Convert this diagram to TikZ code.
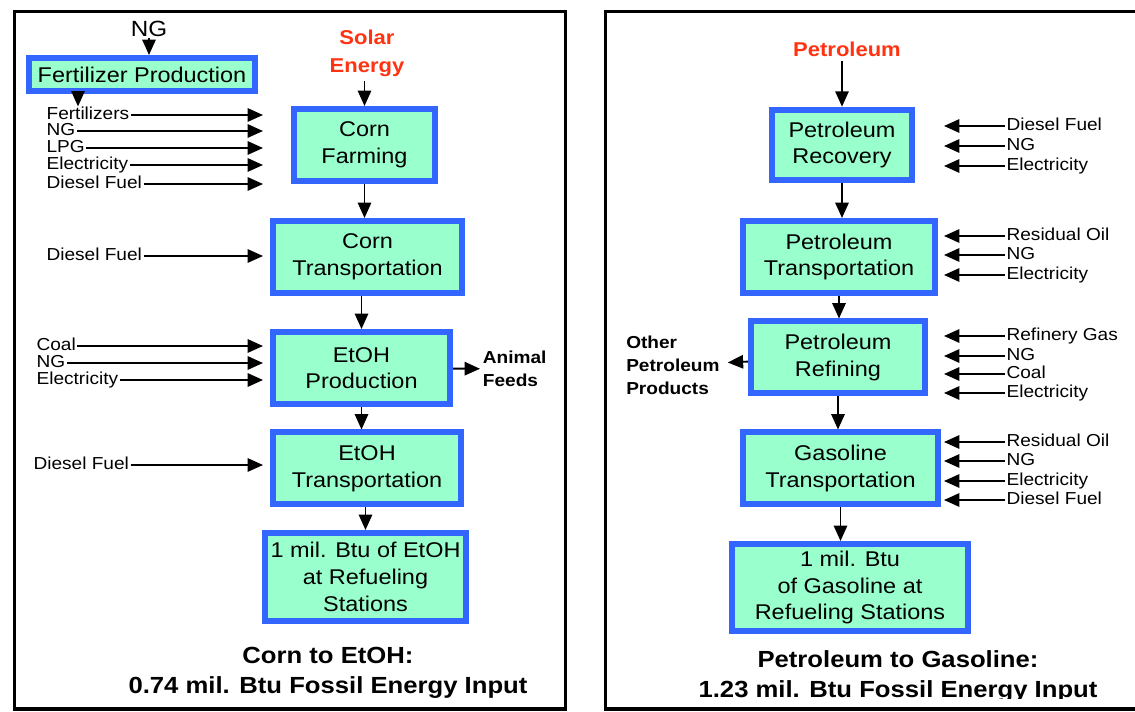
\documentclass[tikz,border=0pt]{standalone}
\usepackage{fontspec}
\setmainfont{Liberation Sans}[FakeStretch=1.1]
\usetikzlibrary{arrows.meta,calc}
\definecolor{boxblue}{RGB}{51,102,255}
\definecolor{boxfill}{RGB}{153,255,204}
\definecolor{srcred}{RGB}{255,51,17}

\begin{document}
\begin{tikzpicture}[x=0.75pt,y=-0.75pt,
                    main node/.style={draw=boxblue,fill=boxfill,line width=4.5pt,align=center,inner sep=0pt,font=\fontsize{16}{20}\selectfont},
                    side node/.style={inner sep=1pt,text height=9pt,text depth=1.5pt,font=\fontsize{13}{15}\selectfont},
                    out node/.style={inner sep=2pt,align=left,font=\bfseries\fontsize{13}{17.25}\selectfont},
                    src node/.style={text=srcred,align=center,font=\bfseries\fontsize{15}{21}\selectfont},
                    note node/.style={align=center,font=\bfseries\fontsize{17.5}{22.5}\selectfont},
                    flow/.style={-{Triangle[length=11.5pt,width=10pt]},line width=1.4pt},
                    frame/.style={line width=2.6pt}]

 \path[use as bounding box,clip] (0,0) rectangle (1135,712);
 \fill[white] (0,0) rectangle (1135,712);
 \draw[frame] (14.5,11.5) rectangle (565.5,709);
 \draw[frame] (605.5,11.5) rectangle (1150,709);

 \coordinate (lx) at (263,0);
 \coordinate (rx) at (944,0);

 \node[main node,minimum width=169.5pt,minimum height=24.75pt] (fp) at (142,74.5) {Fertilizer Production};
 \node[font=\fontsize{16.5}{18}\selectfont,inner sep=1pt] (ng) at (149,29) {NG};
 \node[src node] (se) at (367,53) {Solar\\Energy};
 \node[main node,minimum width=105.75pt,minimum height=54pt] (cf) at (364.5,145) {Corn\\Farming};
 \node[main node,minimum width=141.75pt,minimum height=54pt] (ct) at (367.5,257) {Corn\\Transportation};
 \node[main node,minimum width=132.75pt,minimum height=54pt] (ep) at (361.5,368) {EtOH\\Production};
 \node[main node,minimum width=141pt,minimum height=54pt] (et) at (367,468.5) {EtOH\\Transportation};
 \node[main node,minimum width=150.75pt,minimum height=66pt] (eb) at (365.5,577) {1 mil. Btu of EtOH\\at Refueling\\Stations};

 \node[side node,anchor=west] (fz) at (45,115) {Fertilizers};
 \node[side node,anchor=west] (ng1) at (45,131) {NG};
 \node[side node,anchor=west] (lpg) at (45,148) {LPG};
 \node[side node,anchor=west] (el1) at (45,165) {Electricity};
 \node[side node,anchor=west] (df1) at (45,184) {Diesel Fuel};
 \node[side node,anchor=west] (df2) at (45,256) {Diesel Fuel};
 \node[side node,anchor=west] (co1) at (35,346) {Coal};
 \node[side node,anchor=west] (ng2) at (35,363) {NG};
 \node[side node,anchor=west] (el2) at (35,380) {Electricity};
 \node[side node,anchor=west] (df3) at (32,465) {Diesel Fuel};
 \node[out node,anchor=west] (af) at (480,369) {Animal\\Feeds};

 \path[flow]
 (ng) edge (ng.south |- fp.north)
 ([xshift=39pt]fp.south west) edge ([xshift=39pt]fp.south west |- fz.north)
 (cf.north |- se.south) edge (cf.north)
 (cf.south) edge (cf.south |- ct.north)
 (ep.north |- ct.south) edge (ep.north)
 (ep.south) edge (ep.south |- et.north)
 (eb.north |- et.south) edge (eb.north)
 (ep) edge (af);

 \path[flow]
 (fz) edge (fz -| lx)
 (ng1) edge (ng1 -| lx)
 (lpg) edge (lpg -| lx)
 (el1) edge (el1 -| lx)
 (df1) edge (df1 -| lx)
 (df2) edge (df2 -| lx)
 (co1) edge (co1 -| lx)
 (ng2) edge (ng2 -| lx)
 (el2) edge (el2 -| lx)
 (df3) edge (df3 -| lx);

 \node[src node] (pe) at (847,49) {Petroleum};
 \node[main node,minimum width=105pt,minimum height=53pt] (pr) at (842,145) {Petroleum\\Recovery};
 \node[main node,minimum width=144pt,minimum height=54pt] (pt) at (839,257) {Petroleum\\Transportation};
 \node[main node,minimum width=130.5pt,minimum height=54pt] (pf) at (838,357.5) {Petroleum\\Refining};
 \node[main node,minimum width=146.25pt,minimum height=54pt] (gt) at (840.5,468.5) {Gasoline\\Transportation};
 \node[main node,minimum width=177pt,minimum height=65.25pt] (gb) at (850,587.5) {1 mil. Btu\\of Gasoline at\\Refueling Stations};
 \node[out node,anchor=west,inner xsep=6pt] (op) at (618,365) {Other\\Petroleum\\Products};

 \node[side node,anchor=west] (rec1) at (1005,126) {Diesel Fuel};
 \node[side node,anchor=west] (rec2) at (1005,146) {NG};
 \node[side node,anchor=west] (rec3) at (1005,166) {Electricity};
 \node[side node,anchor=west] (trn1) at (1005,236) {Residual Oil};
 \node[side node,anchor=west] (trn2) at (1005,255) {NG};
 \node[side node,anchor=west] (trn3) at (1005,275) {Electricity};
 \node[side node,anchor=west] (ref1) at (1005,336) {Refinery Gas};
 \node[side node,anchor=west] (ref2) at (1005,356) {NG};
 \node[side node,anchor=west] (ref3) at (1005,374) {Coal};
 \node[side node,anchor=west] (ref4) at (1005,393) {Electricity};
 \node[side node,anchor=west] (gas1) at (1005,442) {Residual Oil};
 \node[side node,anchor=west] (gas2) at (1005,461) {NG};
 \node[side node,anchor=west] (gas3) at (1005,481) {Electricity};
 \node[side node,anchor=west] (gas4) at (1005,500) {Diesel Fuel};

 \path[flow]
 (pr.north |- pe.south) edge (pr.north)
 (pr.south) edge (pr.south |- pt.north)
 (pt.south) edge (pt.south |- pf.north)
 (pf.south) edge (pf.south |- gt.north)
 (gt.south) edge (gt.south |- gb.north)
 (pf) edge (op);

 \path[flow]
 (rec1) edge (rec1 -| rx)
 (rec2) edge (rec2 -| rx)
 (rec3) edge (rec3 -| rx)
 (trn1) edge (trn1 -| rx)
 (trn2) edge (trn2 -| rx)
 (trn3) edge (trn3 -| rx)
 (ref1) edge (ref1 -| rx)
 (ref2) edge (ref2 -| rx)
 (ref3) edge (ref3 -| rx)
 (ref4) edge (ref4 -| rx)
 (gas1) edge (gas1 -| rx)
 (gas2) edge (gas2 -| rx)
 (gas3) edge (gas3 -| rx)
 (gas4) edge (gas4 -| rx);

 \begin{scope}
 \clip (0,0) rectangle (1135,698);
 \node[note node] (cap1) at (328,673) {Corn to EtOH:\\0.74 mil. Btu Fossil Energy Input};
 \node[note node] (cap2) at (898,677) {Petroleum to Gasoline:\\1.23 mil. Btu Fossil Energy Input};
 \end{scope}

\end{tikzpicture}
\end{document}
